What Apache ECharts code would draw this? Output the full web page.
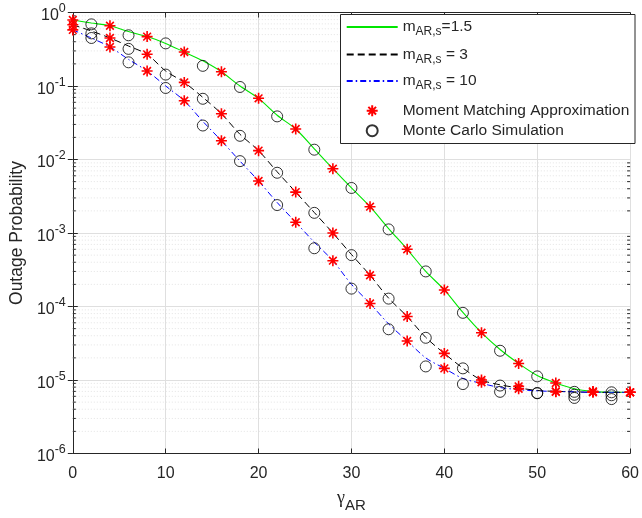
<!DOCTYPE html>
<html>
<head>
<meta charset="utf-8">
<script src="https://cdn.jsdelivr.net/npm/echarts@6/dist/echarts.min.js"></script>
<style>
html,body{margin:0;padding:0;background:#fff;}
#chart{width:642px;height:518px;}
</style>
</head>
<body>
<div id="chart"></div>
<script>
// ---- data ----
const xLine = [0,2,4,6,8,10,12,14,16,18,20,22,24,26,28,30,32,34,36,38,40,42,44,46,48,50,52,54,56,58,60];
const lineM15 = [0.79,0.72,0.66,0.55,0.47,0.38,0.29,0.22,0.156,0.10,0.068,0.04,0.026,0.014,0.0075,0.0041,0.00228,0.00115,0.0006,0.0003,1.68e-4,8.3e-5,4.4e-5,2.6e-5,1.68e-5,1.15e-5,9.1e-6,7.6e-6,7.0e-6,6.8e-6,6.8e-6];
const lineM3 = [0.68,0.56,0.45,0.35,0.27,0.16,0.112,0.07,0.042,0.022,0.0132,0.0068,0.0036,0.0019,0.001,5.1e-4,2.66e-4,1.3e-4,7.3e-5,3.8e-5,2.3e-5,1.45e-5,1.0e-5,8.6e-6,7.8e-6,7.2e-6,7.0e-6,6.9e-6,6.8e-6,6.8e-6,6.8e-6];
const lineM10 = [0.58,0.45,0.34,0.23,0.16,0.10,0.063,0.033,0.018,0.0095,0.0051,0.0026,0.0014,7.5e-4,4.2e-4,2.0e-4,1.1e-4,5.8e-5,3.4e-5,2.0e-5,1.44e-5,1.05e-5,9.0e-6,7.9e-6,7.4e-6,7.1e-6,7.0e-6,6.9e-6,6.8e-6,6.8e-6,6.8e-6];

const xMM = [0,4,8,12,16,20,24,28,32,36,40,44,48,52,56,60];
const mmM15 = [0.79,0.66,0.47,0.29,0.156,0.068,0.026,0.0075,0.00228,0.0006,1.68e-4,4.4e-5,1.68e-5,9.1e-6,7.0e-6,6.8e-6];
const mmM3 = [0.68,0.45,0.27,0.112,0.042,0.0132,0.0036,0.001,2.66e-4,7.3e-5,2.3e-5,1.0e-5,8.2e-6,7.0e-6,6.9e-6,6.8e-6];
const mmM10 = [0.58,0.34,0.16,0.063,0.018,0.0051,0.0014,4.2e-4,1.1e-4,3.4e-5,1.44e-5,9.3e-6,7.6e-6,6.9e-6,6.8e-6,6.8e-6];

const xMC = [2,6,10,14,18,22,26,30,34,38,42,46,50,54,58];
const mcM15 = [0.69,0.49,0.38,0.188,0.097,0.0386,0.0136,0.0041,0.00112,0.0003,8.2e-5,2.5e-5,1.12e-5,6.9e-6,6.8e-6];
const mcM3 = [0.52,0.32,0.143,0.067,0.021,0.0066,0.00188,5.0e-4,1.28e-4,3.75e-5,1.44e-5,8.4e-6,6.65e-6,6.3e-6,6.2e-6];
const mcM10 = [0.45,0.21,0.094,0.029,0.0095,0.0024,6.2e-4,1.75e-4,4.9e-5,1.53e-5,8.8e-6,6.9e-6,6.6e-6,5.7e-6,5.5e-6];

const xTicks = [0,10,20,30,40,50,60];
const yDecades = [1e-6,1e-5,1e-4,1e-3,1e-2,1e-1,1];
const minorMult = [2,3,4,5,6,7,8,9];

const nameM15 = 'm_AR,s=1.5';
const nameM3 = 'm_AR,s = 3';
const nameM10 = 'm_AR,s = 10';
const nameMM = 'Moment Matching Approximation';
const nameMC = 'Monte Carlo Simulation';

// ---- build ----
const pair = (xs, ys) => xs.map((x, i) => [x, ys[i]]);
const minorVals = [];
yDecades.slice(0, -1).forEach(d => minorMult.forEach(m => minorVals.push([0, d * m])));

const axisColor = '#262626';
const font = 'Liberation Sans, Arial, Helvetica, sans-serif';
const asterisk = 'path://M0,-10L0,10M-10,0L10,0M-7,-7L7,7M-7,7L7,-7';
const noSymbol = {color: 'rgba(0,0,0,0)', borderWidth: 0, opacity: 0};

const richLegend = {
  m: {fontSize: 15.5, fontFamily: font, color: axisColor, lineHeight: 22},
  sub: {fontSize: 12, fontFamily: font, color: axisColor, lineHeight: 12, verticalAlign: 'bottom'}
};
function lineLegend(name, label, top) {
  return {
    orient: 'vertical', left: 345.7, top: top, z: 100,
    itemWidth: 51, itemHeight: 22, itemGap: 0, padding: 0,
    textStyle: {rich: richLegend},
    formatter: () => label,
    data: [{name: name, itemStyle: noSymbol}]
  };
}

const chart = echarts.init(document.getElementById('chart'), null, {renderer: 'canvas'});
chart.setOption({
  animation: false,
  backgroundColor: '#fff',
  grid: {left: 71, right: 7, top: 12.5, bottom: 63.3, containLabel: false},
  graphic: [{
    type: 'rect', z: 90, silent: true,
    shape: {x: 340.5, y: 14.5, width: 294.5, height: 129},
    style: {fill: '#fff', stroke: axisColor, lineWidth: 1}
  }],
  xAxis: [{
    type: 'value', min: 0, max: 60, interval: 10,
    axisLine: {show: true, lineStyle: {color: axisColor, width: 1}},
    axisTick: {show: true, inside: true, length: 5, lineStyle: {color: axisColor}},
    axisLabel: {fontSize: 16, fontFamily: font, color: axisColor, margin: 12,
      formatter: v => xTicks.includes(v) ? String(v) : ''},
    splitLine: {show: true, lineStyle: {color: '#dfdfdf', width: 1}},
    name: '{g|γ}{s|AR}',
    nameLocation: 'middle', nameGap: 36,
    nameTextStyle: {rich: {
      g: {fontSize: 18, fontFamily: 'Liberation Serif, Times New Roman, serif', color: axisColor, padding: [0,0,6,0]},
      s: {fontSize: 15, fontFamily: font, color: axisColor, padding: [8,0,0,0]}
    }}
  }, {
    type: 'value', min: 0, max: 60, interval: 10, position: 'top',
    axisLine: {show: true, lineStyle: {color: axisColor, width: 1}},
    axisTick: {show: true, inside: true, length: 5, lineStyle: {color: axisColor}},
    axisLabel: {show: false}, splitLine: {show: false}
  }],
  yAxis: [{
    type: 'log', logBase: 10, min: 1e-6, max: 1,
    axisLine: {show: true, lineStyle: {color: axisColor, width: 1}},
    axisTick: {show: true, inside: true, length: 5, lineStyle: {color: axisColor}},
    axisLabel: {
      margin: 7, align: 'right',
      formatter: v => {
        const e = Math.round(Math.log10(v));
        return '{b|10}{s|' + e + '}';
      },
      rich: {
        b: {fontSize: 16, fontFamily: font, color: axisColor, padding: [7,0,0,0]},
        s: {fontSize: 12.5, fontFamily: font, color: axisColor, padding: [0,0,7,0]}
      }
    },
    splitLine: {show: true, lineStyle: {color: '#dfdfdf', width: 1}},
    name: 'Outage Probability', nameLocation: 'middle', nameGap: 41,
    nameTextStyle: {fontSize: 17.5, fontFamily: font, color: axisColor}
  }, {
    type: 'log', logBase: 10, min: 1e-6, max: 1, position: 'right',
    axisLine: {show: true, lineStyle: {color: axisColor, width: 1}},
    axisTick: {show: true, inside: true, length: 5, lineStyle: {color: axisColor}},
    axisLabel: {show: false}, splitLine: {show: false}
  }],
  legend: [
    lineLegend(nameM15, '{m|m}{sub|AR,s}{m|=1.5}', 29.3 - 11),
    lineLegend(nameM3, '{m|m}{sub|AR,s}{m| = 3}', 56.7 - 11),
    lineLegend(nameM10, '{m|m}{sub|AR,s}{m| = 10}', 83.3 - 11),
    {
      orient: 'vertical', left: 365.7, top: 102.2, z: 100,
      itemWidth: 51, itemHeight: 11, itemGap: 3, padding: 0,
      textStyle: {fontSize: 15.5, fontFamily: font, color: axisColor, lineHeight: 17},
      data: [nameMM, nameMC]
    }
  ],
  series: [
    {
      type: 'custom', silent: true, z: 1, xAxisIndex: 0, yAxisIndex: 0,
      data: minorVals, clip: false,
      renderItem: (params, api) => {
        const v = api.value(1);
        const p1 = api.coord([0, v]);
        const p2 = api.coord([60, v]);
        return {type: 'group', children: [
          {type: 'line', shape: {x1: p1[0], y1: p1[1], x2: p2[0], y2: p2[1]},
           style: {stroke: '#e3e3e3', lineWidth: 1, lineDash: [1, 2]}},
          {type: 'line', shape: {x1: p1[0], y1: p1[1], x2: p1[0] + 3, y2: p1[1]},
           style: {stroke: axisColor, lineWidth: 1}},
          {type: 'line', shape: {x1: p2[0], y1: p2[1], x2: p2[0] - 3, y2: p2[1]},
           style: {stroke: axisColor, lineWidth: 1}}
        ]};
      }
    },
    {name: nameM15, type: 'line', data: pair(xLine, lineM15), symbol: 'none', smooth: 0.3, z: 3,
     lineStyle: {color: '#00e600', width: 1.1}, itemStyle: {color: '#00e600'}},
    {name: nameM3, type: 'line', data: pair(xLine, lineM3), symbol: 'none', smooth: 0.3, z: 3,
     lineStyle: {color: '#000', width: 1, type: [7, 4]}, itemStyle: {color: '#000'}},
    {name: nameM10, type: 'line', data: pair(xLine, lineM10), symbol: 'none', smooth: 0.3, z: 3,
     lineStyle: {color: '#0000ff', width: 1, type: [6, 3, 1.5, 3]}, itemStyle: {color: '#0000ff'}},
    {name: nameMM, type: 'scatter', z: 4,
     data: pair(xMM, mmM15).concat(pair(xMM, mmM3), pair(xMM, mmM10)),
     symbol: asterisk, symbolSize: 11,
     itemStyle: {color: 'rgba(0,0,0,0)', borderColor: '#ff0000', borderWidth: 1.6, opacity: 1}},
    {name: nameMC, type: 'scatter', z: 5,
     data: pair(xMC, mcM15).concat(pair(xMC, mcM3), pair(xMC, mcM10)),
     symbol: 'circle', symbolSize: 11,
     itemStyle: {color: 'rgba(0,0,0,0)', borderColor: '#000', borderWidth: 1}}
  ]
});
</script>
</body>
</html>
